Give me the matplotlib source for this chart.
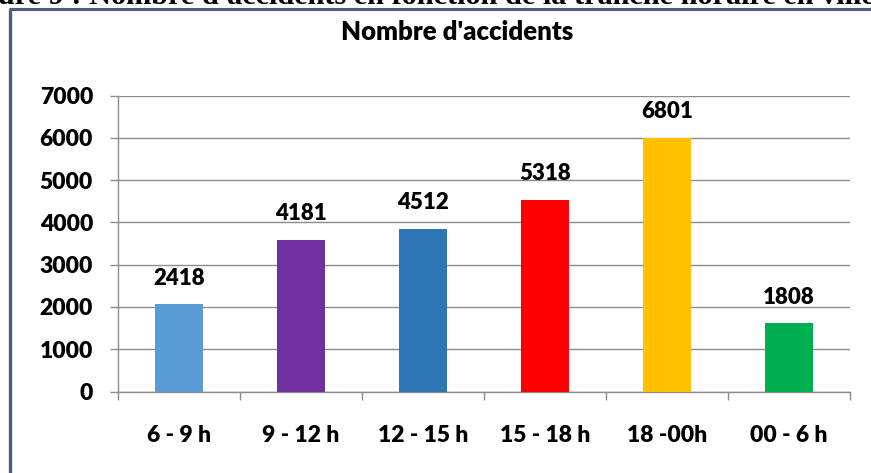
import matplotlib
matplotlib.use("Agg")
import matplotlib.pyplot as plt
from matplotlib.lines import Line2D

categories = ["6 - 9 h", "9 - 12 h", "12 - 15 h", "15 - 18 h", "18 -00h", "00 - 6 h"]
bar_heights = [2070, 3590, 3850, 4540, 6010, 1620]
label_values = [2418, 4181, 4512, 5318, 6801, 1808]
bar_colors = ["#5B9BD5", "#7030A0", "#2E75B6", "#FF0000", "#FFC000", "#00B050"]
y_ticks = [0, 1000, 2000, 3000, 4000, 5000, 6000, 7000]
chart_title = "Nombre d'accidents"
caption = "Figure 9 : Nombre d'accidents en fonction de la tranche horaire en ville"

W, H = 871, 473
fig = plt.figure(figsize=(W / 100, H / 100), dpi=100)
fig.patch.set_facecolor("white")

FONT = "Lato"
WEIGHT = "heavy"
grid_c = "#8C8C8C"

# frame lines (chart border)
frame_c = "#4E5D7A"
fig.add_artist(Line2D([10 / W, 10 / W], [0, 1 - 9.5 / H], transform=fig.transFigure,
                      color=frame_c, lw=2.4, solid_capstyle="butt"))
fig.add_artist(Line2D([8.8 / W, 1], [1 - 9.5 / H, 1 - 9.5 / H], transform=fig.transFigure,
                      color=frame_c, lw=2.2, solid_capstyle="butt"))

# cut-off caption above
fig.text(-44 / W, 1 - 4.5 / H, caption, family="Liberation Serif", weight="bold",
         fontsize=21.8, ha="left", va="baseline", color="black")

x0, x1 = 118, 850
y0, y1 = 391.5, 95.7
ax = fig.add_axes([x0 / W, 1 - y0 / H, (x1 - x0) / W, (y0 - y1) / H])
ax.set_facecolor("none")

xs = list(range(len(categories)))
ax.bar(xs, bar_heights, width=0.4, color=bar_colors, zorder=3)
for x, h, v in zip(xs, bar_heights, label_values):
    ax.annotate(str(v), (x, h), xytext=(0, 18.7), textcoords="offset points",
                ha="center", va="center", family=FONT, weight=WEIGHT, fontsize=16,
                color="black", zorder=4)

ax.set_xlim(-0.5, len(categories) - 0.5)
ax.set_ylim(0, 7000)
ax.set_yticks(y_ticks)
ax.set_yticklabels([str(t) for t in y_ticks])
ax.set_xticks([i - 0.5 for i in range(len(categories) + 1)], minor=False)
ax.set_xticklabels([""] * (len(categories) + 1))
ax.set_xticks(xs, minor=True)
ax.set_xticklabels(categories, minor=True)
ax.tick_params(axis="x", which="major", direction="out", length=6, width=1.0, color=grid_c)
ax.tick_params(axis="x", which="minor", length=0, pad=24)
ax.tick_params(axis="y", direction="out", length=6, width=1.0, color=grid_c, pad=12)
for lab in ax.get_xticklabels(minor=True) + ax.get_yticklabels():
    lab.set_family(FONT)
    lab.set_weight(WEIGHT)
    lab.set_fontsize(16.5)
    lab.set_color("black")

ax.grid(axis="y", color=grid_c, lw=1.0, zorder=0)
ax.set_axisbelow(True)
for s in ["top", "right"]:
    ax.spines[s].set_visible(False)
for s in ["left", "bottom"]:
    ax.spines[s].set_color(grid_c)
    ax.spines[s].set_linewidth(1.0)

fig.text(457 / W, 1 - 32.5 / H, chart_title, family=FONT, weight=WEIGHT, fontsize=18.5,
         ha="center", va="center", color="black")

fig.savefig("out.png", dpi=100, facecolor="white")
